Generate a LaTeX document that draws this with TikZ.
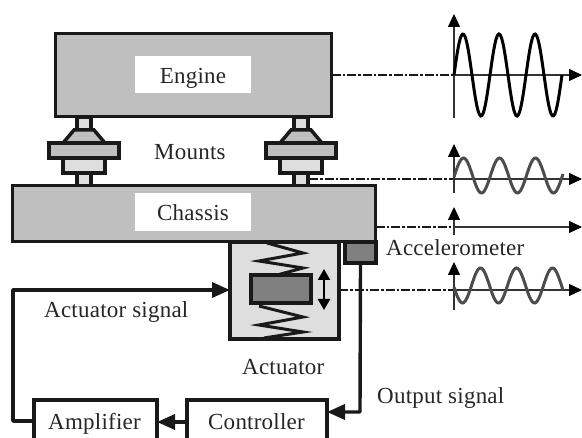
\documentclass[tikz,border=0pt]{standalone}
\usepackage{fontspec}
\setmainfont[LetterSpace=1]{Liberation Serif}
\usetikzlibrary{arrows.meta}
\tikzset{
  part/.style={draw=black!90,line width=3.5pt,inner sep=0pt,outer sep=0pt},
  label/.style={inner sep=0pt,anchor=base west,font=\fontsize{23}{25}\selectfont,text=black!85},
  plate/.style={fill=white,inner sep=0pt,minimum width=116pt,minimum height=38pt,text height=21pt,text depth=3pt,font=\fontsize{23}{25}\selectfont,text=black!85},
  wire/.style={line width=3.4pt,line join=round,draw=black!90},
  sigarrow/.style={-{Triangle[length=18pt,width=15pt]}},
  sensor/.style={line width=2.6pt,draw=black!90,dash pattern=on 9pt off 2pt on 2.5pt off 2pt},
  axis/.style={line width=1.2pt,draw=black!80,-{Triangle[length=13pt,width=12pt,black]}},
  spring/.style={line width=3pt,line join=miter,draw=black!90},
  wave/.style={line width=3pt,smooth}
}
\begin{document}
\begin{tikzpicture}[x=1pt,y=1pt]
\useasboundingbox (0,0) rectangle (582,-438);
\clip (0,0) rectangle (582,-438);
% mounts
\foreach \mx in {84,301} {
  \draw [part,fill=black!13] (\mx-7,-117) rectangle (\mx+7,-130);
  \draw [part,fill=black!25] (\mx-10,-130) -- (\mx+10,-130) -- (\mx+21,-143) -- (\mx-21,-143) -- cycle;
  \draw [part,fill=black!13] (\mx-21,-158) rectangle (\mx+21,-173);
  \draw [part,fill=black!25] (\mx-35,-143) rectangle (\mx+35,-158);
  \draw [part,fill=black!13] (\mx-7,-173) rectangle (\mx+7,-186);
}
% blocks
\node [part,fill=black!25,minimum width=276pt,minimum height=83pt] (engine) at (193.5,-75) {};
\node [plate,minimum height=37pt] (engineplate) at (193,-74.5) {Engine};
\node [part,fill=black!25,minimum width=363pt,minimum height=56pt] (chassis) at (194,-213.5) {};
\node [plate] (chassisplate) at (193,-212) {Chassis};
\node [part,fill=black!13,minimum width=109pt,minimum height=97pt] (actuator) at (284.5,-290.5) {};
\node [part,fill=black!50,minimum width=60pt,minimum height=28pt] (mass) at (281,-289) {};
\node [part,fill=black!50,minimum width=31pt,minimum height=21pt] (accel) at (360.5,-252.5) {};
\node [part,fill=white,minimum width=123pt,minimum height=50pt] (amplifier) at (95.5,-425) {};
\node [part,fill=white,minimum width=140pt,minimum height=50pt] (controller) at (257,-425) {};
% springs
\draw [spring] (267,-243) -- (303,-253) -- (259,-261) -- (303,-268) -- (277,-275);
\draw [spring] (259,-306) -- (303,-317) -- (259,-325) -- (303,-332) -- (264,-338);
\coordinate (stroketop) at (324,-269);
\coordinate (strokebot) at (324,-310);
\draw [line width=2.2pt,{Triangle[length=11pt,width=12pt]}-{Triangle[length=11pt,width=12pt]}] (strokebot) -- (stroketop);
% wires
\coordinate (outcorner) at (360,-412);
\coordinate (outend) at (controller.east |- outcorner);
\draw [wire,sigarrow] (accel.south) -- (outcorner) -- (outend);
\draw [wire,sigarrow] (controller.west |- 0,-422) -- (amplifier.east |- 0,-422);
\coordinate (ampleft) at (amplifier.west |- 0,-421);
\coordinate (loopbot) at (13,-421);
\coordinate (looptop) at (13,-290);
\draw [wire,sigarrow] (ampleft) -- (loopbot) -- (looptop) -- (actuator.west |- looptop);
% sensor lines
\coordinate (axisA) at (454,-75);
\coordinate (axisB) at (454,-179);
\coordinate (axisC) at (454,-227);
\coordinate (axisD) at (454,-290);
\coordinate (tapB) at (309,-179);
\coordinate (tapC) at (chassis.east |- axisC);
\coordinate (tapD) at (actuator.east |- axisD);
\draw [sensor] (engine.east) -- (axisA);
\draw [sensor] (tapB) -- (axisB);
\draw [sensor] (tapC) -- (axisC);
\draw [sensor] (tapD) -- (axisD);
% axes
\coordinate (endA) at (582,-75);
\coordinate (endB) at (582,-179);
\coordinate (endC) at (582,-227);
\coordinate (endD) at (582,-290);
\draw [axis] (axisA) -- (endA);
\draw [axis] (axisB) -- (endB);
\draw [axis] (axisC) -- (endC);
\draw [axis] (axisD) -- (endD);
\draw [axis] (454,-118) -- (454,-14);
\draw [axis] (454,-193) -- (454,-144);
\draw [axis] (454,-235) -- (454,-207);
\draw [axis] (454,-310) -- (454,-262);
% waves
\draw [wave,black] plot [domain=0:108,samples=90] (\x+454,{-75+41*sin(10*\x)});
\draw [wave,black!70] plot [domain=0:109,samples=90] (\x+454,{-175.5+17.5*sin(10*\x-5)});
\draw [wave,black!70] plot [domain=0:109,samples=90] (\x+454,{-285.5-17.5*sin(10*\x+5)});
% labels
\node [label] (mounts) at (154,-160) {Mounts};
\node [label] (accellabel) at (386,-256) {Accelerometer};
\node [label] (actsignal) at (44,-318) {Actuator signal};
\node [label] (actlabel) at (242,-375) {Actuator};
\node [label] (outsignal) at (377,-404) {Output signal};
\node [label] (amplabel) at (48,-430) {Amplifier};
\node [label] (ctrllabel) at (208,-430) {Controller};
\end{tikzpicture}
\end{document}
